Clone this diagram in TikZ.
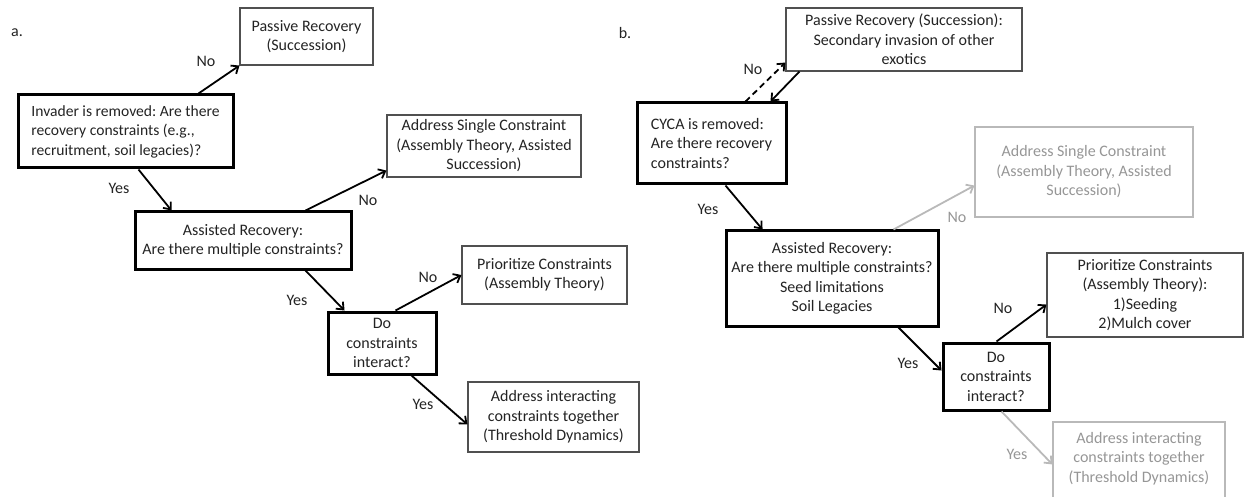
\documentclass[tikz,border=0pt]{standalone}
\usepackage{fontspec}
\setmainfont{Carlito}
\usetikzlibrary{arrows.meta,calc}
\definecolor{txt}{RGB}{35,35,35}
\definecolor{ghost}{RGB}{150,150,150}
\definecolor{ghostline}{RGB}{185,185,185}
\definecolor{thinline}{RGB}{80,80,80}
\frenchspacing
\begin{document}
\begin{tikzpicture}[x=1pt,y=-1pt,
  font=\fontsize{16}{19.5}\selectfont, text=txt,
  box/.style={draw=thinline, line width=1.1pt, inner sep=0pt, align=center, text=txt},
  qbox/.style={draw=black, line width=3pt, inner sep=0pt, align=center, text=txt},
  gbox/.style={draw=ghostline, line width=1.1pt, inner sep=0pt, align=center, text=ghost},
  arr/.style={line width=1.8pt, draw=black, -{Straight Barb[length=6pt,width=10pt]}},
  garr/.style={arr, draw=ghostline},
  lbl/.style={inner sep=0pt, text=txt},
  glbl/.style={inner sep=0pt, text=ghost},
]
\useasboundingbox (0,0) rectangle (1245,497);
\clip (0,0) rectangle (1245,497);

% ---------- panel a ----------
\node[lbl] (la) at (17,33) {a.};
\node[box, minimum width=133, minimum height=57] (pa) at (306.5,36.5) {Passive Recovery\\(Succession)};
\node[qbox, minimum width=215, minimum height=73, align=left, font=\fontsize{15.6}{19.5}\selectfont] (inv) at (125.5,131.5)
  {Invader is removed: Are there\\recovery constraints (e.g.,\\recruitment, soil legacies)?};
\node[box, minimum width=194, minimum height=62] (asc) at (484,146) {Address Single Constraint\\(Assembly Theory, Assisted\\Succession)};
\node[qbox, minimum width=216, minimum height=57] (ar) at (243,240.5) {Assisted Recovery:\\Are there multiple constraints?};
\node[box, minimum width=165, minimum height=58] (prio) at (544.5,275) {Prioritize Constraints\\(Assembly Theory)};
\node[qbox, minimum width=108, minimum height=62] (do) at (382,343) {Do\\constraints\\interact?};
\node[box, minimum width=171, minimum height=70] (aic) at (553.5,417) {Address interacting\\constraints together\\(Threshold Dynamics)};

\draw[arr] ($(inv.north west)+(182,0)$) -- (pa.south west);
\node[lbl] (n1) at (206,61) {No};
\draw[arr] ($(inv.south west)+(122,0)$) -- ($(ar.north west)+(38,0)$);
\node[lbl] (y1) at (119,188) {Yes};
\draw[arr] ($(ar.north west)+(172,0)$) -- ($(asc.south west)+(0,-7)$);
\node[lbl] (n2) at (368,200) {No};
\draw[arr] ($(ar.south west)+(172,0)$) -- ($(do.north west)+(18,0)$);
\node[lbl] (y2) at (297,300) {Yes};
\draw[arr] ($(do.north west)+(69,0)$) -- (prio.west);
\node[lbl] (n3) at (428,277) {No};
\draw[arr] ($(do.south west)+(85,0)$) -- ($(aic.north west)+(0,43)$);
\node[lbl] (y3) at (423,404) {Yes};

% ---------- panel b ----------
\node[lbl] (lb) at (625,33) {b.};
\node[box, minimum width=236, minimum height=63] (pb) at (904,39.5) {Passive Recovery (Succession):\\Secondary invasion of other\\exotics};
\node[qbox, minimum width=149, minimum height=81, align=left] (cyca) at (711.5,143.5)
  {CYCA is removed:\\Are there recovery\\constraints?};
\node[qbox, minimum width=212, minimum height=95] (arb) at (832,278.5) {Assisted Recovery:\\Are there multiple constraints?\\Seed limitations\\Soil Legacies};
\node[gbox, minimum width=218, minimum height=90] (ascb) at (1084,172) {Address Single Constraint\\(Assembly Theory, Assisted\\Succession)};
\node[qbox, minimum width=106, minimum height=67] (dob) at (996,376.5) {Do\\constraints\\interact?};
\node[box, minimum width=196, minimum height=84] (priob) at (1145,295) {Prioritize Constraints\\(Assembly Theory):\\1)Seeding\\2)Mulch cover};
\node[gbox, minimum width=172, minimum height=90, text depth=20pt] (aicb) at (1139,467) {Address interacting\\constraints together\\(Threshold Dynamics)};

\draw[arr, dashed, dash pattern=on 6pt off 4pt] ($(cyca.north west)+(110,0)$) -- ($(pb.south west)+(0,-9)$);
\node[lbl] (n4) at (753,69) {No};
\draw[arr] ($(pb.south west)+(14,0)$) -- ($(cyca.north west)+(135,0)$);
\draw[arr] ($(cyca.south west)+(90,0)$) -- ($(arb.north west)+(38,0)$);
\node[lbl] (y4) at (708,209) {Yes};
\draw[garr] ($(arb.north west)+(169,0)$) -- ($(ascb.south west)+(0,-32)$);
\node[glbl] (n5) at (957,217) {No};
\draw[arr] ($(arb.south west)+(174,0)$) -- ($(dob.north west)+(0,29)$);
\node[lbl] (y5) at (908,363) {Yes};
\draw[arr] ($(dob.north west)+(55,0)$) -- ($(priob.south west)+(0,-33)$);
\node[lbl] (n6) at (1003,308) {No};
\draw[garr] ($(dob.south west)+(60,0)$) -- ($(aicb.north west)+(0,43)$);
\node[glbl] (y6) at (1017,454) {Yes};
\end{tikzpicture}
\end{document}
